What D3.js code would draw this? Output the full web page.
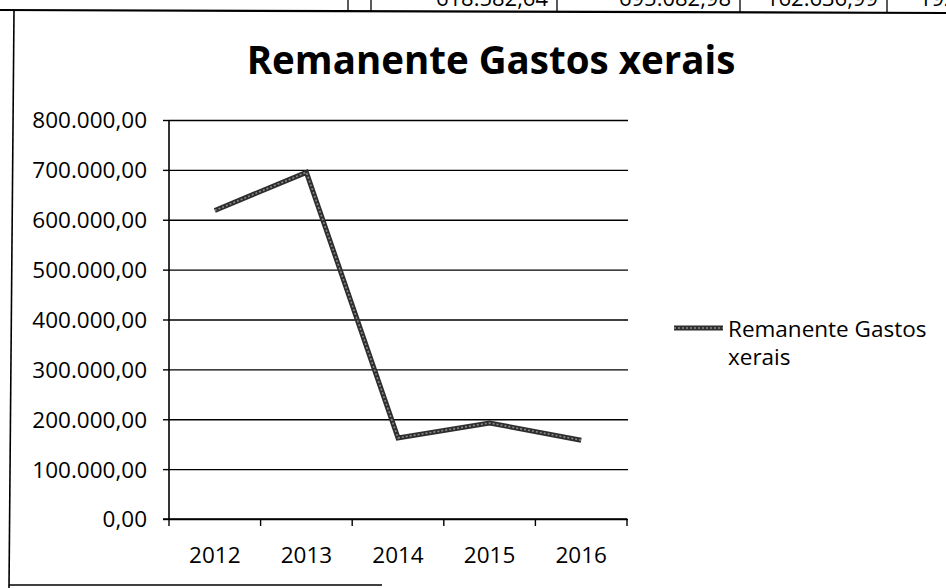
<!DOCTYPE html>
<html>
<head>
<meta charset="utf-8">
<script src="https://cdn.jsdelivr.net/npm/d3@7/dist/d3.min.js"></script>
<style>
  html, body { margin: 0; padding: 0; background: #fff; }
  svg { display: block; }
  text { font-family: "Open Sans", "DejaVu Sans", sans-serif; fill: #000; }
</style>
</head>
<body>
<svg id="chart" width="946" height="588"></svg>
<script>
// ---- data ----
const years = ["2012", "2013", "2014", "2015", "2016"];
const remanente = [618582.64, 695082.98, 162636.99, 192500.00, 158000.00];
const yTicks = [0, 100000, 200000, 300000, 400000, 500000, 600000, 700000, 800000];
const legendLines = ["Remanente Gastos", "xerais"];
const titleText = "Remanente Gastos xerais";

// ---- setup ----
const W = 946, H = 588;
const svg = d3.select("#chart");
svg.append("rect").attr("width", W).attr("height", H).attr("fill", "#fff");

const loc = d3.formatLocale({ decimal: ",", thousands: ".", grouping: [3], currency: ["", ""] });
const fmt = loc.format(",.2f");

const plot = { left: 169, right: 628, top: 120, bottom: 519 };

const x = d3.scaleBand().domain(years).range([plot.left, plot.right - 1]).padding(0);
const y = d3.scaleLinear().domain([0, 800000]).range([plot.bottom, plot.top]);

// ---- top table fragment (scanned spreadsheet row, cut by the page edge) ----
const cellRights = [557, 740, 887, 1040];
const topG = svg.append("g");
topG.append("line").attr("x1", 0).attr("x2", W).attr("y1", 10).attr("y2", 13)
  .attr("stroke", "#000").attr("stroke-width", 2.2);
[348, 371, 557, 740, 887].forEach(cx => {
  topG.append("line").attr("x1", cx).attr("x2", cx).attr("y1", 0).attr("y2", 12)
    .attr("stroke", "#000").attr("stroke-width", 1.3);
});
remanente.slice(0, 4).forEach((v, i) => {
  topG.append("text").attr("x", cellRights[i] - 9).attr("y", 6)
    .attr("text-anchor", "end").attr("font-size", 22).text(fmt(v));
});

// ---- chart frame ----
svg.append("line").attr("x1", 14).attr("x2", 9).attr("y1", 11).attr("y2", 588)
  .attr("stroke", "#000").attr("stroke-width", 1.6);
svg.append("line").attr("x1", 9).attr("x2", 382).attr("y1", 585).attr("y2", 585)
  .attr("stroke", "#000").attr("stroke-width", 1.6);

// ---- title ----
svg.append("text").attr("x", 491).attr("y", 74).attr("text-anchor", "middle")
  .attr("font-size", 38.5).attr("font-weight", "bold").text(titleText);

// ---- gridlines + y axis ----
const yAxis = d3.axisLeft(y).tickValues(yTicks).tickFormat(fmt)
  .tickSizeInner(-(plot.right - plot.left)).tickSizeOuter(0).tickPadding(22);
const gy = svg.append("g").attr("transform", `translate(${plot.left},0)`).call(yAxis);
gy.select(".domain").remove();
gy.selectAll(".tick line").attr("stroke", "#000").attr("stroke-width", 1.4);
gy.selectAll(".tick").append("line").attr("x1", -6).attr("x2", 0)
  .attr("stroke", "#000").attr("stroke-width", 1.4);
gy.selectAll(".tick text").attr("font-size", 22.5).attr("fill", "#000")
  .attr("font-family", "'Open Sans', sans-serif").attr("dy", "0.35em");
svg.append("line").attr("x1", plot.left).attr("x2", plot.left)
  .attr("y1", plot.top).attr("y2", plot.bottom + 1)
  .attr("stroke", "#000").attr("stroke-width", 1.6);

// ---- x axis ----
const gx = svg.append("g").attr("transform", `translate(0,${plot.bottom})`);
gx.append("line").attr("x1", plot.left - 6).attr("x2", plot.right - 1)
  .attr("stroke", "#000").attr("stroke-width", 1.6);
const bounds = years.map(d => x(d)).concat([x(years[years.length - 1]) + x.bandwidth()]);
gx.selectAll("line.xt").data(bounds).join("line").attr("class", "xt")
  .attr("x1", d => d).attr("x2", d => d).attr("y1", 0).attr("y2", 7)
  .attr("stroke", "#000").attr("stroke-width", 1.4);
gx.selectAll("text.xl").data(years).join("text").attr("class", "xl")
  .attr("x", d => x(d) + x.bandwidth() / 2).attr("y", 44)
  .attr("text-anchor", "middle").attr("font-size", 22.5).text(d => d);

// ---- series line ----
const pts = years.map((d, i) => [x(d) + x.bandwidth() / 2, y(remanente[i])]);
const lineGen = d3.line();
svg.append("path").attr("d", lineGen(pts)).attr("fill", "none")
  .attr("stroke", "#2e2e2e").attr("stroke-width", 5).attr("stroke-linejoin", "miter");
svg.append("path").attr("d", lineGen(pts)).attr("fill", "none")
  .attr("stroke", "#8a8a8a").attr("stroke-width", 1.6).attr("stroke-dasharray", "2 2");

// ---- legend ----
const lg = svg.append("g");
lg.append("line").attr("x1", 674).attr("x2", 723).attr("y1", 328).attr("y2", 328)
  .attr("stroke", "#2e2e2e").attr("stroke-width", 5);
lg.append("line").attr("x1", 674).attr("x2", 723).attr("y1", 328).attr("y2", 328)
  .attr("stroke", "#8a8a8a").attr("stroke-width", 1.6).attr("stroke-dasharray", "2 2");
legendLines.forEach((t, i) => {
  lg.append("text").attr("x", 728).attr("y", 337 + i * 28).attr("font-size", 22.5).text(t);
});
</script>
</body>
</html>
